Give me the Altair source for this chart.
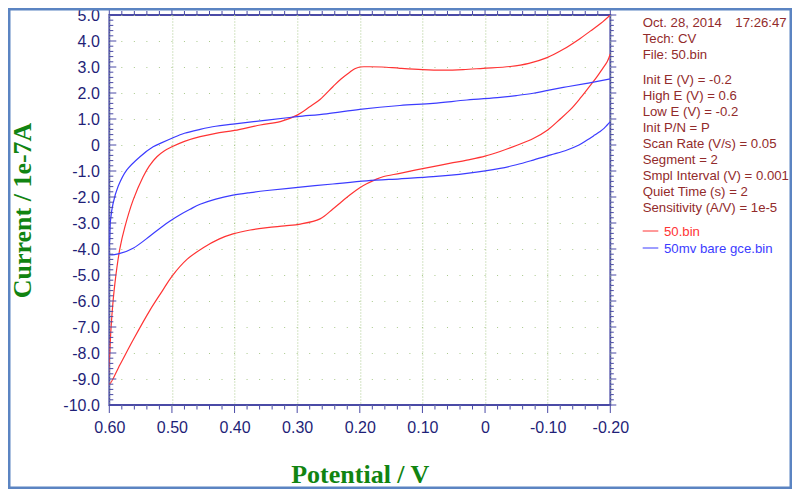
import altair as alt
import pandas as pd

# ---------------- data ----------------
red_v = [-0.2, -0.185, -0.168, -0.152, -0.125, -0.099, -0.07, -0.04, 0.003, 0.035, 0.067,
         0.10, 0.136, 0.165, 0.189, 0.20, 0.208, 0.216, 0.23, 0.243, 0.2635, 0.28, 0.30,
         0.327, 0.359, 0.40, 0.43, 0.455, 0.48, 0.50, 0.513, 0.524, 0.536, 0.546,
         0.562, 0.575, 0.583, 0.591, 0.596, 0.599, 0.6,
         0.583, 0.562, 0.535, 0.515, 0.50, 0.476, 0.45, 0.425, 0.4025, 0.375, 0.348, 0.32,
         0.295, 0.2635, 0.243, 0.23, 0.216, 0.2, 0.189, 0.175, 0.163, 0.136, 0.11, 0.083,
         0.055, 0.029, 0.0, -0.024, -0.05, -0.077, -0.1, -0.12, -0.137, -0.152, -0.165,
         -0.178, -0.188, -0.195, -0.2]
red_i = [5.0, 4.68, 4.38, 4.10, 3.68, 3.36, 3.14, 3.02, 2.95, 2.90, 2.88,
         2.90, 2.95, 3.0, 3.01, 3.0, 2.93, 2.80, 2.54, 2.24, 1.75, 1.47, 1.15,
         0.90, 0.77, 0.56, 0.45, 0.32, 0.14, -0.07, -0.24, -0.45, -0.80, -1.22,
         -2.12, -3.14, -3.97, -5.31, -6.6, -7.88, -9.2,
         -8.45, -7.5, -6.35, -5.6, -5.05, -4.4, -3.95, -3.62, -3.42, -3.27, -3.18, -3.11,
         -3.04, -2.84, -2.46, -2.2, -1.92, -1.64, -1.49, -1.33, -1.22, -1.09, -0.96, -0.83,
         -0.70, -0.58, -0.43, -0.25, -0.02, 0.25, 0.58, 1.0, 1.38, 1.8, 2.2,
         2.6, 2.95, 3.2, 3.5]

blue_v = [-0.2, -0.165, -0.131, -0.1, -0.077, -0.05, -0.024, 0.029, 0.083, 0.136, 0.20,
          0.253, 0.30, 0.348, 0.4025, 0.43, 0.455, 0.48, 0.50, 0.515, 0.53, 0.551, 0.572,
          0.586, 0.594, 0.598, 0.5994, 0.6,
          0.583, 0.562, 0.535, 0.519, 0.503, 0.487, 0.471, 0.455, 0.43, 0.4025, 0.375,
          0.348, 0.295, 0.243, 0.189, 0.136, 0.083, 0.029, -0.024, -0.05, -0.077, -0.105,
          -0.131, -0.15, -0.163, -0.175, -0.183, -0.19, -0.195, -0.2]
blue_i = [2.54, 2.38, 2.24, 2.10, 1.99, 1.90, 1.83, 1.73, 1.60, 1.52, 1.37,
          1.20, 1.09, 0.96, 0.80, 0.72, 0.60, 0.45, 0.26, 0.10, -0.07, -0.45, -0.96,
          -1.6, -2.25, -2.88, -3.65, -4.2,
          -4.17, -3.97, -3.5, -3.2, -2.92, -2.68, -2.47, -2.28, -2.08, -1.93, -1.83,
          -1.75, -1.62, -1.5, -1.38, -1.30, -1.22, -1.09, -0.9, -0.76, -0.58, -0.38,
          -0.19, 0.0, 0.19, 0.38, 0.51, 0.64, 0.77, 0.9]

series_names = ["50.bin", "50mv bare gce.bin"]

x_major = [0.6, 0.5, 0.4, 0.3, 0.2, 0.1, 0.0, -0.1, -0.2]
y_major = [5, 4, 3, 2, 1, 0, -1, -2, -3, -4, -5, -6, -7, -8, -9, -10]
x_minor = [round(0.6 - 0.02 * k, 2) for k in range(41) if k % 5 != 0]
y_minor = [round(-10 + 0.2 * k, 1) for k in range(76) if k % 5 != 0]

info_head = ["Oct. 28, 2014", "Tech: CV", "File: 50.bin"]
info_time = "17:26:47"
info_params = ["Init E (V) = -0.2", "High E (V) = 0.6", "Low E (V) = -0.2",
               "Init P/N = P", "Scan Rate (V/s) = 0.05", "Segment = 2",
               "Smpl Interval (V) = 0.001", "Quiet Time (s) = 2",
               "Sensitivity (A/V) = 1e-5"]

# ---------------- styles ----------------
RED = "#ff3434"
BLUE = "#3c3cff"
NAVY = "#4a4aa6"
LABEL = "#1f1f78"
GRID = "#a9c98a"
GREEN = "#118411"
INFO = "#922b2b"
FRAME = "#5b84c2"
W, H = 501, 390
PL, PT = 101.3, 7

curves = pd.concat([
    pd.DataFrame({"V": red_v, "I": red_i, "series": series_names[0],
                  "order": range(len(red_v))}),
    pd.DataFrame({"V": blue_v, "I": blue_i, "series": series_names[1],
                  "order": range(len(blue_v))}),
])

xs = alt.Scale(domain=[-0.2, 0.6], reverse=True, nice=False, zero=False)
ys = alt.Scale(domain=[-10, 5], nice=False, zero=False)

MINUS = "\u2212"
xaxis = alt.Axis(values=x_major, ticks=False, domain=False, grid=True,
                 gridColor=GRID, gridDash=[1, 2], gridWidth=1,
                 labelExpr="abs(datum.value) < 1e-9 ? '0' : replace(format(datum.value, '.2f'), '" + MINUS + "', '-')",
                 labelFont="Liberation Sans", labelFontSize=16, labelColor=LABEL,
                 labelPadding=14, labelFlush=False, labelOverlap=False,
                 title="Potential / V", titleFont="Liberation Serif", titleFontSize=26,
                 titleFontWeight="bold", titleColor=GREEN, titleBaseline="alphabetic",
                 titleY=77)
yaxis = alt.Axis(values=y_major, ticks=False, domain=False, grid=True,
                 gridColor=GRID, gridDash=[1, 11.525], gridWidth=1,
                 labelExpr="abs(datum.value) < 1e-9 ? '0' : replace(format(datum.value, '.1f'), '" + MINUS + "', '-')",
                 labelFont="Liberation Sans", labelFontSize=16, labelColor=LABEL,
                 labelPadding=10, labelFlush=False, labelOverlap=False,
                 title="Current / 1e-7A", titleFont="Liberation Serif", titleFontSize=26,
                 titleFontWeight="bold", titleColor=GREEN, titleBaseline="alphabetic",
                 titleX=-79.3)

lines = alt.Chart(curves).mark_line(strokeWidth=1.2, clip=True,
                                    interpolate="catmull-rom").encode(
    x=alt.X("V:Q", scale=xs, axis=xaxis),
    y=alt.Y("I:Q", scale=ys, axis=yaxis),
    color=alt.Color("series:N", scale=alt.Scale(domain=series_names, range=[RED, BLUE]),
                    legend=None),
    detail="series:N",
    order="order:Q",
)


def yticks(vals, x0, x1):
    return alt.Chart(pd.DataFrame({"I": vals})).mark_rule(color=NAVY, strokeWidth=1).encode(
        y=alt.Y("I:Q", scale=ys, axis=yaxis), x=alt.value(x0), x2=alt.value(x1))


def xticks(vals, y0, y1):
    return alt.Chart(pd.DataFrame({"V": vals})).mark_rule(color=NAVY, strokeWidth=1).encode(
        x=alt.X("V:Q", scale=xs, axis=xaxis), y=alt.value(y0), y2=alt.value(y1))


ticks = [
    yticks(y_major, 0, 7), yticks(y_minor, 0, 4),
    yticks(y_major, W, W + 6), yticks(y_minor, W, W + 3.5),
    xticks(x_major, 0, -7), xticks(x_minor, 0, -4),
    xticks(x_major, H, H + 8), xticks(x_minor, H, H + 4.5),
]

one = pd.DataFrame({"k": [0]})
TX = 533.4


def text_block(lines_, x, y, color, size=13.2):
    return alt.Chart(one).mark_text(
        text="\n".join(lines_), lineBreak="\n", lineHeight=16, align="left",
        baseline="alphabetic", font="Liberation Sans", fontSize=size, color=color,
    ).encode(x=alt.value(x), y=alt.value(y))


texts = [
    text_block(info_head, TX, 12.3, INFO),
    text_block([info_time], 626.0, 12.3, INFO),
    text_block(info_params, TX, 68.5, INFO),
    text_block([series_names[0]], 554.7, 220.5, RED),
    text_block([series_names[1]], 554.7, 237.5, BLUE),
    alt.Chart(one).mark_rule(color=RED, strokeWidth=1).encode(
        x=alt.value(TX), x2=alt.value(549), y=alt.value(216)),
    alt.Chart(one).mark_rule(color=BLUE, strokeWidth=1).encode(
        x=alt.value(TX), x2=alt.value(549), y=alt.value(233)),
]

frame = alt.Chart(one).mark_rect(fill=None, stroke=FRAME, strokeWidth=2.5).encode(
    x=alt.value(-PL + 1.25), x2=alt.value(784 - PL - 1.25),
    y=alt.value(-PT + 1.25), y2=alt.value(481 - PT - 1.25))

chart = alt.layer(lines, *ticks, *texts, frame).properties(
    width=W, height=H,
    autosize=alt.AutoSizeParams(type="none"),
    padding={"left": PL, "top": PT, "right": 784 - PL - W, "bottom": 481 - PT - H},
    background="white",
).configure_view(stroke=NAVY, strokeWidth=1.8)

chart.save("out.html", embed_options={"renderer": "svg", "actions": False})
